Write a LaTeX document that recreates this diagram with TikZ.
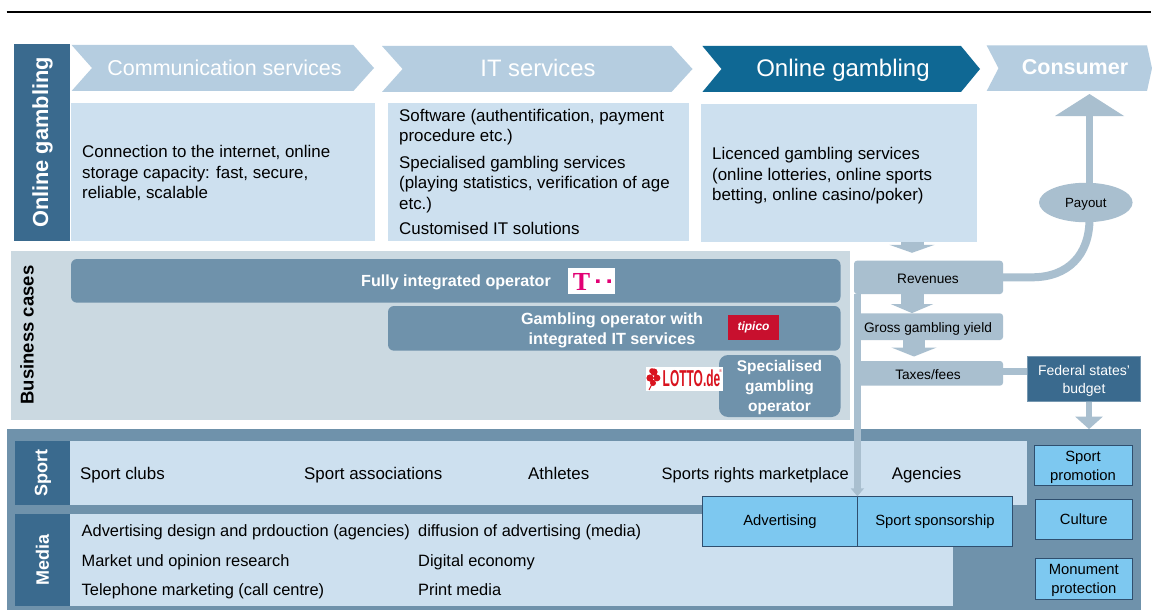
\documentclass[tikz,border=0pt]{standalone}
\usepackage{fontspec}
\usepackage{graphicx}
\setmainfont{Liberation Sans}
\newfontfamily\tserif{Liberation Serif}
\usetikzlibrary{arrows.meta,calc,shapes.geometric}
\definecolor{navy}{HTML}{3A6A8E}
\definecolor{chev}{HTML}{B5CDE0}
\definecolor{chevdark}{HTML}{0F6894}
\definecolor{pale}{HTML}{CDE0EF}
\definecolor{steel}{HTML}{6F92AB}
\definecolor{panel}{HTML}{CBD9E1}
\definecolor{flow}{HTML}{A9BFCF}
\definecolor{sky}{HTML}{7DC8F0}
\definecolor{edgeblue}{HTML}{2F4F6F}
\definecolor{tmag}{HTML}{E20074}
\definecolor{tipicored}{HTML}{C8102E}
\definecolor{lottored}{HTML}{D9131E}
\newcommand{\fz}[2]{\fontsize{#1}{#2}\selectfont}
\newcommand{\bx}[7]{\node[#2,minimum width={(#5-#3)*1pt},minimum height={(#6-#4)*1pt},inner sep=0pt] (#1) at ({(#3+#5)/2},{(#4+#6)/2}) {#7};}
\newcommand{\chv}[7]{\fill[#1] (#2,#5)--(#4,#5)--(#6,{(#5+#7)/2})--(#4,#7)--(#2,#7)--(#3,{(#5+#7)/2})--cycle;}
\tikzset{
 side/.style={fill=navy,text=white,font=\bfseries\fz{18}{20}},
 light/.style={fill=pale},
 stepbox/.style={fill=flow,rounded corners=3pt},
 steptxt/.style={text=black,inner sep=0pt,font=\fz{13.7}{16}},
 biz/.style={fill=steel,rounded corners=6pt},
 skybox/.style={fill=sky,draw=edgeblue,line width=.8pt,align=center,text=black,font=\fz{14.8}{19}},
 skytxt/.style={align=center,text=black,font=\fz{14.8}{19},inner sep=0pt},
 body/.style={anchor=west,align=left,inner sep=0pt,text=black,font=\fz{16.9}{20.5}},
 rowtxt/.style={anchor=base west,inner sep=0pt,text=black,font=\fz{16.9}{18}},
 medtxt/.style={anchor=base west,inner sep=0pt,text=black,font=\fz{16.4}{18}},
 headtxt/.style={text=white},
 flowline/.style={draw=flow,line width=#1},
}
\begin{document}
\begin{tikzpicture}[x=1pt,y=-1pt]
\useasboundingbox (0,0) rectangle (1152,610);
\fill[white] (0,0) rectangle (1152,610);
\coordinate (rule a) at (6.5,12);
\coordinate (rule b) at (1151,12);
\draw[line width=2pt] (rule a) -- (rule b);
% header chevrons
\chv{chev}{71.6}{92}{353.4}{45}{374}{91}
\chv{chev}{382}{402.6}{671.5}{46}{692.5}{92}
\chv{chevdark}{702.4}{721.5}{961}{46}{980}{92}
\chv{chev}{986.7}{998.5}{1147}{45.5}{1152}{91}
\node[headtxt,font=\fz{21.5}{24}] (h1) at (224.5,67.5) {Communication services};
\node[headtxt,font=\fz{23.8}{26}] (h2) at (538,67.7) {IT services};
\node[headtxt,font=\fz{24}{26}] (h3) at (843,70.3) {Online gambling};
\node[headtxt,font=\bfseries\fz{21.5}{24}] (h4) at (1075,67.5) {Consumer};
% online gambling row
\bx{og}{side,font=\bfseries\fz{21.8}{24}}{13.6}{44.5}{70}{240.5}{\hspace{1.5pt}\rotatebox{90}{Online gambling}}
\bx{b1}{light}{70.5}{103}{375}{240.5}{}
\bx{b2}{light}{388}{103}{689}{240.5}{}
\bx{b3}{light}{700.5}{104.5}{977}{241.5}{}
\node[body] (t1) at (82,173.3) {Connection to the internet, online\\storage capacity: fast, secure,\\reliable, scalable};
\node[body] (t2) at (399,172) {Software (authentification, payment\\procedure etc.)\\[6pt]Specialised gambling services\\(playing statistics, verification of age\\etc.)\\[5pt]Customised IT solutions};
\node[body] (t3) at (712,175.8) {Licenced gambling services\\(online lotteries, online sports\\betting, online casino/poker)};
% business cases
\bx{bc}{fill=panel}{11}{250.7}{849.7}{420}{}
\node[text=black,font=\bfseries\fz{18.5}{20},rotate=90] (bct) at (27,335) {Business cases};
\bx{op1}{biz}{71}{259}{840.5}{302.7}{}
\node[text=white,font=\bfseries\fz{16.1}{20}] (op1t) at (456,282.3) {Fully integrated operator};
\bx{tlogo}{fill=white}{568}{267.7}{614.6}{294}{}
\node[text=tmag,font=\tserif\bfseries\fz{26}{26},inner sep=0pt] (tt) at (581.5,281.5) {T};
\fill[tmag] (596,279.3) rectangle (599.5,282.8) (607.3,279.3) rectangle (610.8,282.8);
\bx{op2}{biz}{388}{306}{840.5}{350.7}{}
\node[text=white,align=center,font=\bfseries\fz{16.2}{20.3}] (op2t) at (612,330.3) {Gambling operator with\\integrated IT services};
\bx{tip}{fill=tipicored,text=white,font=\bfseries\itshape\fz{12}{14}}{728}{315}{779}{340}{tipico}
\bx{op3}{biz,rounded corners=9pt}{719}{355}{840.5}{417}{}
\node[text=white,align=center,font=\bfseries\fz{15.5}{19.7}] (op3t) at (779.5,387.5) {Specialised\\gambling\\operator};
\bx{lot}{fill=white}{646}{366.7}{722.6}{391}{}
\node[text=lottored,font=\bfseries\fz{23}{24},inner sep=0pt,anchor=west] (lott) at (662.5,378) {\scalebox{.52}[1]{LOTTO.de}};
\node[text=lottored,font=\fz{4}{5},inner sep=0pt] (lotr) at (720.6,371) {®};
\fill[lottored] (654,372) circle (3.6) (650,378) circle (3.6) (657,378) circle (3.4) (652,371) circle (2.8) (653,383) circle (3);
\draw[lottored,line width=1pt] (654,380) -- (649,390);
% lower band
\bx{band}{fill=steel}{7}{429.3}{1140.6}{610}{}
\bx{sp}{side}{14.7}{441}{70}{504.7}{\hspace{1pt}\rotatebox{90}{Sport}}
\bx{spl}{light}{70}{441}{1027}{504.7}{}
\bx{me}{side}{14.7}{514}{70}{606}{\rotatebox{90}{Media}}
\bx{mel}{light}{70}{514}{953}{606}{}
\node[rowtxt] (s1) at (80,479) {Sport clubs};
\node[rowtxt] (s2) at (304,479) {Sport associations};
\node[rowtxt] (s3) at (528,479) {Athletes};
\node[rowtxt,font=\fz{16.5}{18}] (s4) at (661.5,479) {Sports rights marketplace};
\node[rowtxt] (s5) at (891.6,479) {Agencies};
\node[medtxt] (m1) at (81.5,536.5) {Advertising design and prdouction (agencies)};
\node[medtxt] (m2) at (81.5,566.4) {Market und opinion research};
\node[medtxt] (m3) at (81.5,595.3) {Telephone marketing (call centre)};
\node[medtxt] (m4) at (418,536.5) {diffusion of advertising (media)};
\node[medtxt] (m5) at (418,566.4) {Digital economy};
\node[medtxt] (m6) at (418,595.3) {Print media};
\bx{adv}{skybox}{702.4}{496.7}{857.4}{546.7}{Advertising}
\bx{spo}{skybox}{857.4}{496.7}{1012.4}{546.7}{Sport sponsorship}
\bx{f1}{skybox}{1034.5}{445.3}{1132}{485.7}{}
\node[skytxt] (f1t) at (1083,467) {Sport\\promotion};
\bx{f2}{skybox}{1035}{499}{1132.6}{539}{Culture}
\bx{f3}{skybox}{1035}{558.3}{1132.6}{599.3}{}
\node[skytxt] (f3t) at (1083.8,580.5) {Monument\\protection};
% value chain steps
\bx{rev}{stepbox}{854}{260.7}{1003}{294}{}
\bx{gross}{stepbox}{854}{313.3}{1003}{340}{}
\bx{tax}{stepbox}{854}{361}{1003}{385.7}{}
\bx{fed}{fill=navy,draw=navy!70!white,line width=.6pt}{1027}{356}{1140.6}{401.7}{}
\node[text=white,align=center,inner sep=0pt,font=\fz{14}{18}] (fedt) at (1084,381) {Federal states'\\budget};
\node[ellipse,fill=flow,minimum width=93.6pt,minimum height=39.5pt,inner sep=0pt] (pay) at (1085.8,202.5) {};
\coordinate (cons) at (1089.5,94);
\coordinate (upx) at (1089.5,219);
\coordinate (vx) at (857.4,0);
\coordinate (ga) at (912,0);
\coordinate (gb) at (914,0);
\coordinate (gc) at (1089,0);
\coordinate (bend) at (1032,277.3);
% connectors
\draw[flowline=23pt,-{Triangle[length=8pt,width=45pt]},shorten >=7.7pt] (ga |- b3.south) -- (ga |- rev.north);
\draw[flowline=23pt,-{Triangle[length=9pt,width=42pt]}] (ga |- rev.south) -- (ga |- gross.north);
\draw[flowline=22pt,-{Triangle[length=9pt,width=45pt]},shorten >=4.3pt] (gb |- gross.south) -- (gb |- tax.north);
\draw[flowline=7pt,-{Triangle[length=8pt,width=13pt]}] (vx |- rev.south) -- (vx |- adv.north);
\draw[flowline=7pt] ([yshift=2pt]tax.east) -- ([yshift=2pt]tax.east -| fed.west);
\draw[flowline=6pt,-{Triangle[length=12.5pt,width=27pt]}] (gc |- fed.south) -- (gc |- band.north);
\draw[flowline=8pt] (rev.east) -- (bend) .. controls (1068,277.3) and (1089.5,255) .. (upx);
\draw[flowline=7pt,-{Triangle[length=22pt,width=68pt]}] (cons |- pay.north) -- (cons);
% labels on the flow shapes
\node[steptxt] (revt) at (928,278.5) {Revenues};
\node[steptxt] (grosst) at (928,329) {Gross gambling yield};
\node[steptxt] (taxt) at (928,374.5) {Taxes/fees};
\node[steptxt,font=\fz{13.3}{16}] (payt) at (1085.8,204.5) {Payout};
\end{tikzpicture}
\end{document}
